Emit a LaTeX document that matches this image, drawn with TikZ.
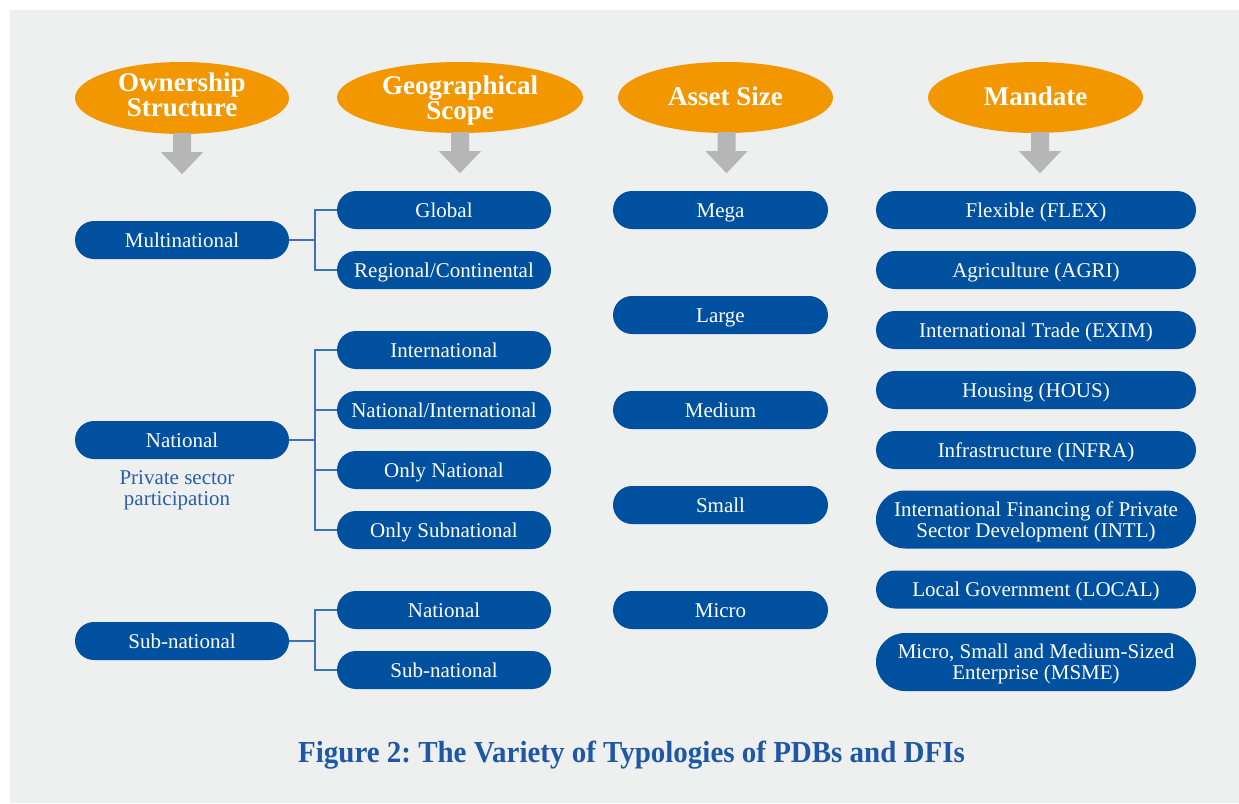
\documentclass[tikz,border=0pt]{standalone}
\usepackage{fontspec}
\setmainfont{Liberation Serif}
\newfontfamily\capfont[FakeStretch=0.95]{Liberation Serif}
\usetikzlibrary{shapes.geometric}
\definecolor{bg}{HTML}{EEEFEF}
\definecolor{boxblue}{HTML}{0050A0}
\definecolor{hdrorange}{HTML}{F29700}
\definecolor{arrgrey}{HTML}{B5B6B5}
\definecolor{linkblue}{HTML}{3E73B8}
\definecolor{capblue}{HTML}{1D57A6}
\definecolor{psblue}{HTML}{2A5FAA}
\frenchspacing
\newcommand\blockarrow[1]{%
  \fill[arrgrey] (#1) ++(-9,-1) -- ++(0,19) -- ++(-12,0) -- ++(21,22) -- ++(21,-22) -- ++(-12,0) -- ++(0,-19) -- cycle;}
\begin{document}
\begin{tikzpicture}[x=1pt,y=-1pt,
  box/.style={fill=boxblue, text=white, rounded corners=19pt, minimum height=38pt,
    inner sep=0pt, font=\fontsize{21}{21}\selectfont, text height=14pt, text depth=0pt, align=center},
  twoline/.style={minimum height=58pt, rounded corners=29pt, text height=35pt},
  wa/.style={minimum width=214pt},
  wb/.style={minimum width=215pt},
  wc/.style={minimum width=320pt},
  hdr/.style={ellipse, fill=hdrorange, text=white, inner sep=0pt, align=center,
    font=\bfseries\fontsize{27}{25.5}\selectfont, text depth=0pt},
  link/.style={draw=linkblue, line width=1.5pt}
]
\useasboundingbox (0,0) rectangle (1239,803);
\fill[bg] (10,10) rectangle (1239,803);

% headers
\node[hdr, minimum width=214pt, minimum height=72pt, text height=43.4pt, text depth=6pt] (h1) at (182,98) {Ownership\\Structure};
\node[hdr, minimum width=246pt, minimum height=71pt, text height=44pt] (h2) at (460,97.5) {Geographical\\Scope};
\node[hdr, minimum width=215pt, minimum height=71pt, text height=18pt, text depth=3pt] (h3) at (725.5,97.5) {Asset Size};
\node[hdr, minimum width=215pt, minimum height=71pt, text height=18pt, text depth=3pt] (h4) at (1035.5,97.5) {Mandate};

\coordinate (a1) at (h1.south);
\coordinate (a2) at (h2.south);
\coordinate (a3) at ([xshift=1pt]h3.south);
\coordinate (a4) at ([xshift=4.5pt]h4.south);
\blockarrow{a1}
\blockarrow{a2}
\blockarrow{a3}
\blockarrow{a4}

% column 1
\node[box, wa] (o1) at (182,240) {Multinational};
\node[box, wa] (o2) at (182,440) {National};
\node[box, wa] (o3) at (182,641) {Sub-national};
\node[text=psblue, font=\fontsize{21}{21}\selectfont, align=center, inner sep=0pt,
  text height=35pt, text depth=0pt] (ps) at (177,487.5) {Private sector\\participation};

% column 2
\node[box, wa] (g1) at (444,210) {Global};
\node[box, wa] (g2) at (444,270) {Regional/Continental};
\node[box, wa] (g3) at (444,350) {International};
\node[box, wa] (g4) at (444,410) {National/International};
\node[box, wa] (g5) at (444,470) {Only National};
\node[box, wa] (g6) at (444,530) {Only Subnational};
\node[box, wa] (g7) at (444,610) {National};
\node[box, wa] (g8) at (444,670) {Sub-national};

% column 3
\node[box, wb] (s1) at (720.5,210) {Mega};
\node[box, wb] (s2) at (720.5,315) {Large};
\node[box, wb] (s3) at (720.5,410) {Medium};
\node[box, wb] (s4) at (720.5,505) {Small};
\node[box, wb] (s5) at (720.5,610) {Micro};

% column 4
\node[box, wc] (m1) at (1036,210) {Flexible (FLEX)};
\node[box, wc] (m2) at (1036,270) {Agriculture (AGRI)};
\node[box, wc] (m3) at (1036,330) {International Trade (EXIM)};
\node[box, wc] (m4) at (1036,390) {Housing (HOUS)};
\node[box, wc] (m5) at (1036,450) {Infrastructure (INFRA)};
\node[box, wc, twoline] (m6) at (1036,519.5) {International Financing of Private\\Sector Development (INTL)};
\node[box, wc] (m7) at (1036,589.5) {Local Government (LOCAL)};
\node[box, wc, twoline] (m8) at (1036,662) {Micro, Small and Medium-Sized\\Enterprise (MSME)};

% connectors
\draw[link] (o1.east) -- ++(26,0) coordinate (j1);
\draw[link] (j1) |- (g1.west);
\draw[link] (j1) |- (g2.west);
\draw[link] (o2.east) -- ++(26,0) coordinate (j2);
\draw[link] (j2) |- (g3.west);
\draw[link] (j2) |- (g4.west);
\draw[link] (j2) |- (g5.west);
\draw[link] (j2) |- (g6.west);
\draw[link] (o3.east) -- ++(26,0) coordinate (j3);
\draw[link] (j3) |- (g7.west);
\draw[link] (j3) |- (g8.west);

% caption
\node[text=capblue, inner sep=0pt, text height=20pt, text depth=0pt,
  font=\capfont\bfseries\fontsize{30.5}{30.5}\selectfont] (cap) at (631.5,752.3)
  {Figure 2: The Variety of Typologies of PDBs and DFIs};
\end{tikzpicture}
\end{document}
